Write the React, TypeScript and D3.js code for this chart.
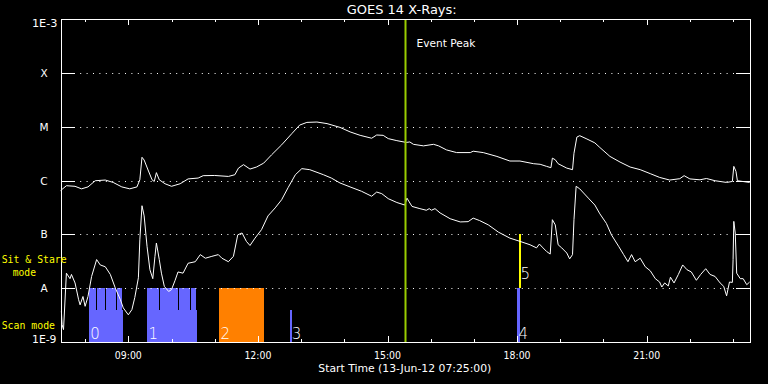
import React from "react";
import * as d3 from "d3";

const WIDTH = 768;
const HEIGHT = 384;
const FONT = "'DejaVu Sans', sans-serif";
const MONO = "'DejaVu Sans Mono', monospace";

// flare class levels on the log axis
const levelLabels = ["A", "B", "C", "M", "X"];
const levelFlux = [1e-8, 1e-7, 1e-6, 1e-5, 1e-4];

// GOES 14 long channel (upper curve)
const longTimes = [
  "07:26", "07:34", "07:46", "07:55", "08:04", "08:14", "08:28", "08:39", "08:51", "09:02",
  "09:12", "09:16", "09:19", "09:22", "09:28", "09:33", "09:36", "09:39", "09:43", "09:51",
  "10:00", "10:12", "10:23", "10:37", "10:44", "11:00", "11:19", "11:28", "11:33", "11:40",
  "11:49", "11:58", "12:08", "12:19", "12:33", "12:47", "12:58", "13:08", "13:22", "13:36",
  "13:54", "14:08", "14:22", "14:38", "14:45", "14:54", "15:01", "15:13", "15:26", "15:31",
  "15:36", "15:50", "16:04", "16:11", "16:22", "16:36", "16:55", "16:59", "17:13", "17:32",
  "17:50", "18:04", "18:23", "18:32", "18:41", "18:47", "18:49", "18:53", "18:57", "19:09",
  "19:17", "19:19", "19:23", "19:27", "19:37", "19:48", "19:55", "20:09", "20:23", "20:37",
  "20:51", "21:05", "21:18", "21:32", "21:46", "21:52", "22:00", "22:14", "22:23", "22:35",
  "22:51", "22:59", "23:01", "23:04", "23:06", "23:23",
];
const longFlux = [
  6.5e-7, 8.0e-7, 7.8e-7, 7.0e-7, 7.6e-7, 9.9e-7, 1.02e-6, 9.2e-7, 7.6e-7, 7.0e-7,
  7.6e-7, 1.03e-6, 2.7e-6, 2.4e-6, 1.5e-6, 1.03e-6, 9.6e-7, 1.4e-6, 1.03e-6, 8.7e-7,
  7.8e-7, 8.7e-7, 1.07e-6, 1.11e-6, 1.23e-6, 1.24e-6, 1.19e-6, 1.28e-6, 1.7e-6, 1.97e-6,
  1.63e-6, 1.78e-6, 2.1e-6, 3.0e-6, 4.6e-6, 7.4e-6, 1.07e-5, 1.2e-5, 1.22e-5, 1.14e-5,
  9.7e-6, 8.0e-6, 6.9e-6, 6.1e-6, 7.0e-6, 6.9e-6, 6.0e-6, 5.5e-6, 5.1e-6, 5.2e-6,
  4.7e-6, 4.4e-6, 4.7e-6, 4.4e-6, 3.7e-6, 3.3e-6, 3.3e-6, 3.5e-6, 3.3e-6, 2.8e-6,
  2.3e-6, 2.3e-6, 2.05e-6, 2.0e-6, 1.83e-6, 1.73e-6, 2.6e-6, 2.43e-6, 2.05e-6, 1.7e-6,
  1.59e-6, 3.2e-6, 6.4e-6, 6.8e-6, 5.9e-6, 5.0e-6, 4.1e-6, 2.8e-6, 2.2e-6, 1.78e-6,
  1.59e-6, 1.34e-6, 1.14e-6, 1.02e-6, 1.08e-6, 1.23e-6, 1.07e-6, 1.03e-6, 1.09e-6, 9.9e-7,
  9.2e-7, 9.6e-7, 1.83e-6, 1.48e-6, 9.9e-7, 9.2e-7,
];

// GOES 14 short channel (lower curve)
const shortTimes = [
  "07:27", "07:28", "07:30", "07:34", "07:39", "07:41", "07:46", "07:51", "07:53", "07:57",
  "08:00", "08:04", "08:09", "08:16", "08:21", "08:28", "08:35", "08:42", "08:49", "08:53",
  "09:00", "09:05", "09:09", "09:14", "09:16", "09:19", "09:22", "09:26", "09:30", "09:34",
  "09:37", "09:39", "09:43", "09:46", "09:50", "09:56", "10:00", "10:05", "10:09", "10:16",
  "10:23", "10:33", "10:40", "10:47", "10:56", "11:05", "11:10", "11:19", "11:26", "11:32",
  "11:38", "11:44", "11:49", "11:56", "12:05", "12:14", "12:24", "12:33", "12:42", "12:52",
  "13:01", "13:12", "13:31", "13:42", "13:54", "14:08", "14:24", "14:38", "14:45", "14:52",
  "15:01", "15:13", "15:24", "15:27", "15:34", "15:45", "15:54", "15:58", "16:01", "16:06",
  "16:13", "16:27", "16:41", "16:52", "16:59", "17:08", "17:20", "17:34", "17:50", "18:04",
  "18:18", "18:27", "18:31", "18:36", "18:41", "18:46", "18:49", "18:53", "18:57", "19:02",
  "19:09", "19:13", "19:17", "19:19", "19:22", "19:27", "19:39", "19:48", "19:55", "20:04",
  "20:11", "20:21", "20:28", "20:34", "20:39", "20:44", "20:51", "20:58", "21:05", "21:12",
  "21:18", "21:21", "21:25", "21:30", "21:33", "21:38", "21:44", "21:50", "21:56", "22:02",
  "22:09", "22:15", "22:22", "22:28", "22:35", "22:42", "22:47", "22:51", "22:55", "22:59",
  "23:00", "23:01", "23:03", "23:05", "23:10", "23:14", "23:19", "23:23",
];
const shortFlux = [
  3.8e-9, 2.1e-9, 1.7e-9, 1.9e-8, 1.5e-8, 1.8e-8, 1.25e-8, 6.1e-9, 4.9e-9, 7.0e-9,
  4.6e-9, 7.0e-9, 1.65e-8, 3.4e-8, 2.7e-8, 2.5e-8, 1.8e-8, 1.0e-8, 6.1e-9, 4.3e-9,
  3.2e-9, 4.0e-9, 6.7e-9, 1.56e-8, 7.9e-8, 3.4e-7, 2.2e-7, 6.0e-8, 2.2e-8, 1.5e-8,
  3.9e-8, 6.9e-8, 3.4e-8, 1.9e-8, 1.08e-8, 8.7e-9, 9.4e-9, 1.4e-8, 2.0e-8, 1.9e-8,
  2.9e-8, 3.1e-8, 4.2e-8, 3.6e-8, 3.9e-8, 4.2e-8, 3.6e-8, 3.1e-8, 3.9e-8, 9.8e-8,
  1.06e-7, 7.4e-8, 6.2e-8, 8.5e-8, 1.22e-7, 2.2e-7, 3.1e-7, 4.4e-7, 7.4e-7, 1.28e-6,
  1.66e-6, 1.59e-6, 1.28e-6, 1.11e-6, 9.0e-7, 7.6e-7, 6.3e-7, 5.1e-7, 6.1e-7, 5.7e-7,
  4.6e-7, 3.9e-7, 3.5e-7, 4.7e-7, 3.3e-7, 3.0e-7, 2.8e-7, 3.0e-7, 2.8e-7, 3.0e-7,
  2.5e-7, 1.95e-7, 1.7e-7, 1.72e-7, 2.0e-7, 1.8e-7, 1.5e-7, 1.1e-7, 8.5e-8, 7.4e-8,
  6.4e-8, 5.6e-8, 6.6e-8, 5.6e-8, 4.8e-8, 4.3e-8, 1.87e-7, 1.5e-7, 6.4e-8, 5.6e-8,
  4.5e-8, 3.5e-8, 4.2e-8, 1.87e-7, 7.8e-7, 7.0e-7, 4.7e-7, 3.5e-7, 2.4e-7, 1.6e-7,
  9.8e-8, 6.0e-8, 4.2e-8, 3.1e-8, 4.2e-8, 3.1e-8, 3.6e-8, 2.5e-8, 2.1e-8, 1.5e-8,
  1.3e-8, 1.05e-8, 1.25e-8, 1.1e-8, 1.6e-8, 1.25e-8, 1.8e-8, 2.7e-8, 2.2e-8, 2.0e-8,
  1.4e-8, 1.8e-8, 2.3e-8, 1.8e-8, 1.65e-8, 1.25e-8, 1.08e-8, 7.2e-9, 1.3e-8, 1.28e-8,
  3.4e-8, 1.74e-7, 1.06e-7, 1.9e-8, 1.5e-8, 1.5e-8, 1.16e-8, 1.3e-8,
];

// IRIS observations (scan mode row)
const obsLabels = ["0", "1", "2", "3", "4"];
const obsStart = ["08:05", "09:26", "11:06", "12:45", "18:00"];
const obsEnd = ["08:53", "10:35", "12:08", "12:48", "18:04"];
const obsTallEnd = ["08:51", "10:34", "12:08", "12:45", "18:04"];
const obsKind = ["raster", "raster", "dense", "raster", "raster"];
const rasterBreaks = ["08:15", "08:27", "08:43", "09:42", "10:09", "10:25"];

// sit & stare observations
const stareLabels = ["5"];
const stareStart = ["18:02"];
const stareEnd = ["18:05"];

const eventPeak = "15:25";
const axisStart = "07:26:30";
const axisEnd = "23:23:30";

const parseT = (s: string) =>
  d3.timeParse("%Y-%m-%d %H:%M:%S")("2012-06-13 " + (s.length === 5 ? s + ":00" : s)) as Date;

export default function App() {
  const left = 61;
  const right = 750;
  const top = 19;
  const bottom = 342;

  const x = d3.scaleTime().domain([parseT(axisStart), parseT(axisEnd)]).range([left, right]);
  const y = d3.scaleLog().domain([1e-9, 1e-3]).range([bottom, top]);

  const line = d3
    .line<[Date, number]>()
    .x((d) => x(d[0]))
    .y((d) => y(d[1]));

  const longData = longTimes.map((t, i) => [parseT(t), longFlux[i]] as [Date, number]);
  const shortData = shortTimes.map((t, i) => [parseT(t), shortFlux[i]] as [Date, number]);

  const hours = x.ticks(d3.timeHour.every(1)!);
  const fmt = d3.timeFormat("%H:%M");

  const scanTop = 4e-9;
  const kindColor: Record<string, string> = { raster: "#6666ff", dense: "#ff8000" };

  const peakX = x(parseT(eventPeak));

  return (
    <svg
      width={WIDTH}
      height={HEIGHT}
      style={{ position: "absolute", left: 0, top: 0, display: "block", background: "#000" }}
      fontFamily={FONT}
    >
      <rect width={WIDTH} height={HEIGHT} fill="#000" />

      {/* observation bars */}
      <g shapeRendering="crispEdges">
        {obsStart.map((s, i) => {
          const x0 = x(parseT(s));
          const x1 = x(parseT(obsEnd[i]));
          const xt = x(parseT(obsTallEnd[i]));
          const c = kindColor[obsKind[i]];
          return (
            <g key={"obs" + i}>
              <rect x={x0} y={y(scanTop)} width={Math.max(x1 - x0, 1)} height={bottom - y(scanTop)} fill={c} />
              {xt > x0 && <rect x={x0} y={y(1e-8)} width={xt - x0} height={bottom - y(1e-8)} fill={c} />}
            </g>
          );
        })}
        {rasterBreaks.map((b, i) => (
          <line
            key={"br" + i}
            x1={Math.round(x(parseT(b))) + 0.5}
            x2={Math.round(x(parseT(b))) + 0.5}
            y1={y(1e-8)}
            y2={y(scanTop)}
            stroke="#000"
            strokeWidth={1}
          />
        ))}
        {stareStart.map((s, i) => {
          const x0 = x(parseT(s));
          const x1 = x(parseT(stareEnd[i]));
          return (
            <rect key={"st" + i} x={x0} y={y(1e-7)} width={x1 - x0} height={y(1e-8) - y(1e-7)} fill="#ffff00" />
          );
        })}
      </g>

      {/* grid lines */}
      {levelFlux.map((f, i) => {
        const py = Math.round(y(f)) + 0.5;
        return (
          <g key={"lv" + i}>
            <line x1={left} x2={right} y1={py} y2={py} stroke="#fff" strokeDasharray="1 5.4" />
            <line x1={left} x2={left + 14} y1={py} y2={py} stroke="#fff" />
            <line x1={right - 14} x2={right} y1={py} y2={py} stroke="#fff" />
            <text x={44} y={y(f) + 4} fill="#fff" fontSize={10.5} textAnchor="middle">
              {levelLabels[i]}
            </text>
          </g>
        );
      })}

      {/* curves */}
      <path d={line(longData) || ""} fill="none" stroke="#fff" strokeWidth={1} />
      <path d={line(shortData) || ""} fill="none" stroke="#fff" strokeWidth={1} />

      {/* event peak */}
      <line x1={peakX} x2={peakX} y1={top} y2={bottom} stroke="#99cc00" strokeWidth={2} />
      <text x={peakX + 11} y={46.5} fill="#fff" fontSize={11} textLength={59} lengthAdjust="spacingAndGlyphs">
        Event Peak
      </text>

      {/* frame */}
      <rect x={left + 0.5} y={top + 0.5} width={right - left} height={bottom - top} fill="none" stroke="#fff" />

      {/* time ticks */}
      {hours.map((h, i) => {
        const major = h.getHours() % 3 === 0;
        const len = major ? 6 : 3;
        const px = Math.round(x(h)) + 0.5;
        return (
          <g key={"t" + i}>
            <line x1={px} x2={px} y1={bottom} y2={bottom - len} stroke="#fff" />
            <line x1={px} x2={px} y1={top} y2={top + len} stroke="#fff" />
            {major && (
              <text x={x(h)} y={358.5} fill="#fff" fontSize={10} textAnchor="middle" textLength={27} lengthAdjust="spacingAndGlyphs">
                {fmt(h)}
              </text>
            )}
          </g>
        );
      })}

      {/* observation labels */}
      {obsLabels.map((l, i) => (
        <text key={"ol" + i} x={x(parseT(obsStart[i])) + 1.5} y={338.5} fill="#fff" fontSize={15} fontWeight={300}>
          {l}
        </text>
      ))}
      {stareLabels.map((l, i) => (
        <text key={"sl" + i} x={x(parseT(stareStart[i])) + 2} y={278.5} fill="#fff" fontSize={15} fontWeight={300}>
          {l}
        </text>
      ))}

      {/* axis labels */}
      <text x={57.5} y={27} fill="#fff" fontSize={10.5} textAnchor="end" textLength={25.6} lengthAdjust="spacingAndGlyphs">
        1E-3
      </text>
      <text x={56.5} y={343} fill="#fff" fontSize={10.5} textAnchor="end" textLength={24.5} lengthAdjust="spacingAndGlyphs">
        1E-9
      </text>
      <text x={346.7} y={14} fill="#fff" fontSize={13} textLength={110} lengthAdjust="spacingAndGlyphs">
        GOES 14 X-Rays:
      </text>
      <text x={318.3} y={372} fill="#fff" fontSize={11} textLength={173} lengthAdjust="spacingAndGlyphs">
        Start Time (13-Jun-12 07:25:00)
      </text>

      <g fontFamily={MONO} fill="#ffff00" fontSize={11}>
        <text x={1.7} y={263} textLength={65} lengthAdjust="spacingAndGlyphs">
          Sit &amp; Stare
        </text>
        <text x={12.7} y={276} textLength={23.3} lengthAdjust="spacingAndGlyphs">
          mode
        </text>
        <text x={1.7} y={328.5} textLength={53.3} lengthAdjust="spacingAndGlyphs">
          Scan mode
        </text>
      </g>
    </svg>
  );
}
